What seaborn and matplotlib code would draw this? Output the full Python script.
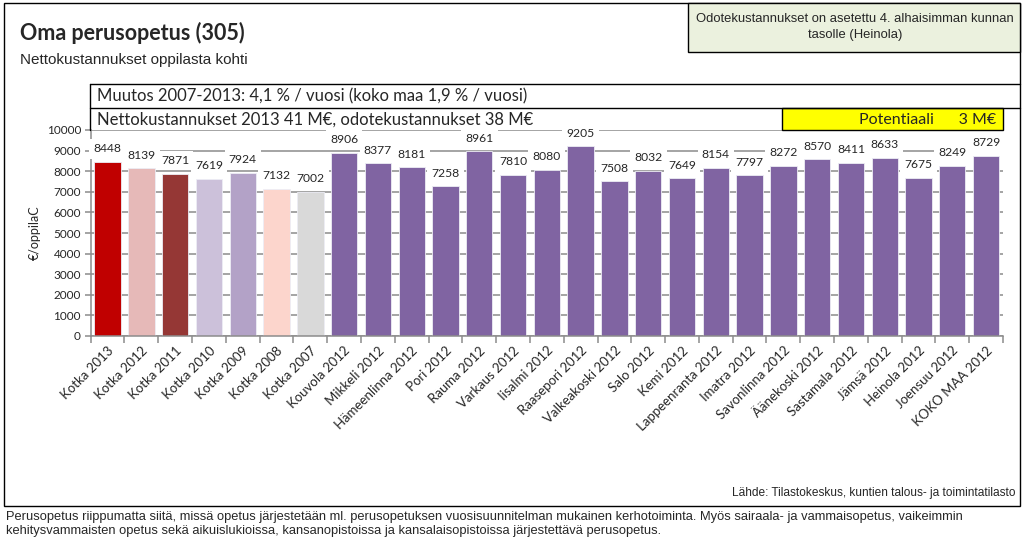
import matplotlib
matplotlib.use("Agg")
import matplotlib.pyplot as plt
import seaborn as sns
from matplotlib.patches import Rectangle
from matplotlib.lines import Line2D
from matplotlib.ticker import FixedLocator

categories = ["Kotka 2013", "Kotka 2012", "Kotka 2011", "Kotka 2010", "Kotka 2009",
              "Kotka 2008", "Kotka 2007", "Kouvola 2012", "Mikkeli 2012",
              "Hämeenlinna 2012", "Pori 2012", "Rauma 2012", "Varkaus 2012",
              "Iisalmi 2012", "Raasepori 2012", "Valkeakoski 2012", "Salo 2012",
              "Kemi 2012", "Lappeenranta 2012", "Imatra 2012", "Savonlinna 2012",
              "Äänekoski 2012", "Sastamala 2012", "Jämsä 2012", "Heinola 2012",
              "Joensuu 2012", "KOKO MAA 2012"]
values = [8448, 8139, 7871, 7619, 7924, 7132, 7002, 8906, 8377, 8181, 7258, 8961,
          7810, 8080, 9205, 7508, 8032, 7649, 8154, 7797, 8272, 8570, 8411, 8633,
          7675, 8249, 8729]
bar_colors = ["#C00000", "#E6B9B8", "#953735", "#CCC1DA", "#B3A2C7", "#FCD5CC",
              "#D9D9D9"] + ["#8064A2"] * 20
yticks = list(range(0, 10001, 1000))

title = "Oma perusopetus (305)"
subtitle = "Nettokustannukset oppilasta kohti"
note_box = "Odotekustannukset on asetettu 4. alhaisimman kunnan\ntasolle (Heinola)"
line1 = "Muutos 2007-2013: 4,1 % / vuosi (koko maa 1,9 % / vuosi)"
line2 = "Nettokustannukset 2013 41 M€, odotekustannukset 38 M€"
potential = "Potentiaali      3 M€"
source = "Lähde: Tilastokeskus, kuntien talous- ja toimintatilasto"
footnote = ("Perusopetus riippumatta siitä, missä opetus järjestetään ml. perusopetuksen vuosisuunnitelman mukainen kerhotoiminta. Myös sairaala- ja vammaisopetus, vaikeimmin\n"
            "kehitysvammaisten opetus sekä aikuislukioissa, kansanopistoissa ja kansalaisopistoissa järjestettävä perusopetus.")

sns.set_theme(style="white")
plt.rcParams["font.family"] = ["Lato", "DejaVu Sans"]

W, H = 1027, 560
fig = plt.figure(figsize=(W / 100, H / 100), dpi=100)
fig.patch.set_facecolor("white")


def fx(x):
    return x / W


def fy(y):
    return 1 - y / H


ax = fig.add_axes([fx(90.7), fy(336), fx(1003) - fx(90.7), fy(130) - fy(336)])
palette = {c: col for c, col in zip(categories, bar_colors)}
sns.barplot(x=categories, y=values, hue=categories, palette=palette, legend=False,
            width=0.78, saturation=1, ax=ax, edgecolor="#EDEDF5", linewidth=0.6)
ax.set_xlim(-0.5, len(categories) - 0.5)
ax.set_ylim(0, 10000)
ax.set_yticks(yticks)
ax.set_yticklabels([str(t) for t in yticks], fontsize=8.5)
ax.set_axisbelow(True)
ax.grid(axis="y", color="#8C8C8C", lw=1.1)
ax.grid(axis="x", visible=False)
for s in ["top", "right"]:
    ax.spines[s].set_visible(False)
for s in ["left", "bottom"]:
    ax.spines[s].set_color("#8C8C8C")
    ax.spines[s].set_linewidth(1.1)
ax.set_xticks(range(len(categories)))
ax.set_xticklabels(categories, rotation=45, ha="right", rotation_mode="anchor", fontsize=9.5)
ax.tick_params(axis="x", which="major", length=0, pad=6)
ax.xaxis.set_minor_locator(FixedLocator([i - 0.5 for i in range(len(categories) + 1)]))
ax.tick_params(axis="x", which="minor", length=5, direction="out", color="#8C8C8C", width=1.1, bottom=True)
ax.tick_params(axis="y", length=4, direction="out", color="#8C8C8C", width=1.1, left=True, pad=3)
ax.set_xlabel("")
ax.set_ylabel("€/oppilaC", fontsize=9, labelpad=4)

for i, v in enumerate(values):
    ax.annotate(str(v), (i, v), xytext=(0, 9.5), textcoords="offset points",
                ha="center", va="center", fontsize=8.7,
                bbox=dict(boxstyle="square,pad=0.35", fc="white", ec="none"))

# outer frame
fig.add_artist(Rectangle((fx(4), fy(506)), fx(1020) - fx(4), fy(3) - fy(506),
                         transform=fig.transFigure, fill=False, ec="black", lw=1))
# note box
fig.add_artist(Rectangle((fx(688), fy(52)), fx(1020) - fx(688), fy(3) - fy(52),
                         transform=fig.transFigure, fc="#EBF1DE", ec="black", lw=1))
fig.text(fx(855), fy(27), note_box, ha="center", va="center", fontsize=9.4,
         family=["Liberation Sans", "DejaVu Sans"], linespacing=1.35)

# header lines
for y in (84, 108):
    fig.add_artist(Line2D([fx(90), fx(1020)], [fy(y), fy(y)], transform=fig.transFigure,
                          color="black", lw=1))
fig.add_artist(Line2D([fx(90), fx(90)], [fy(84), fy(130)], transform=fig.transFigure,
                      color="black", lw=1))
fig.add_artist(Rectangle((fx(782), fy(130)), fx(1003) - fx(782), fy(108) - fy(130),
                         transform=fig.transFigure, fc="#FFFF00", ec="black", lw=1))
fig.text(fx(97), fy(96.5), line1, ha="left", va="center", fontsize=12)
fig.text(fx(97), fy(119.5), line2, ha="left", va="center", fontsize=12)
fig.text(fx(996), fy(119.5), potential, ha="right", va="center", fontsize=11.5)

fig.text(fx(20), fy(33), title, ha="left", va="center", fontsize=15.5, weight="bold")
fig.text(fx(20), fy(60), subtitle, ha="left", va="center", fontsize=11,
         family=["Liberation Sans", "DejaVu Sans"])
fig.text(fx(1015), fy(493), source, ha="right", va="center", fontsize=8.6,
         family=["Liberation Sans", "DejaVu Sans"])
fig.text(fx(6), fy(524), footnote, ha="left", va="center", fontsize=9.3,
         family=["Liberation Sans", "DejaVu Sans"], linespacing=1.25)

fig.savefig("out.png", dpi=100)
